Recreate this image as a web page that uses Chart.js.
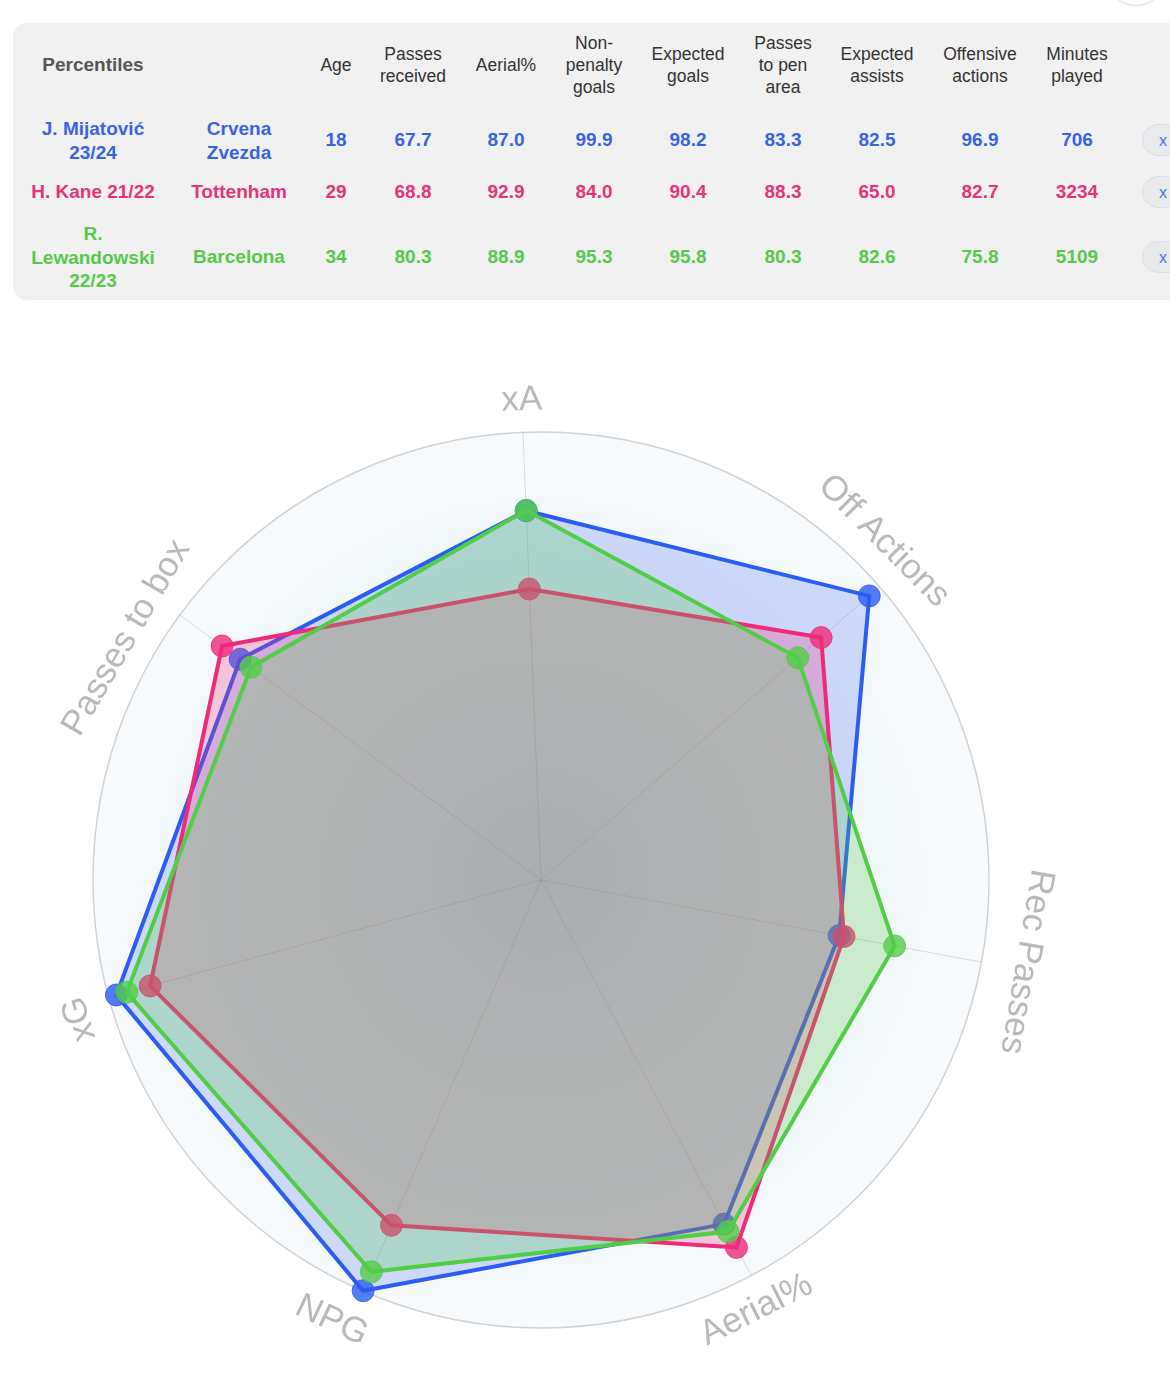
<!DOCTYPE html>
<html>
<head>
<meta charset="utf-8">
<script src="https://cdn.jsdelivr.net/npm/chart.js@4"></script>
<style>
  html, body { margin: 0; padding: 0; background: #fff; }
  body { width: 1170px; height: 1377px; position: relative; overflow: hidden;
         font-family: "Liberation Sans", Arial, Helvetica, sans-serif; }
  #panel { position: absolute; left: 13px; top: 23px; width: 1200px; height: 277px;
           background: #f1f1f1; border-radius: 14px; }
  .cell { position: absolute; width: 150px; text-align: center; transform: translateY(-50%);
          line-height: 23.5px; white-space: nowrap; }
  .head { font-size: 17.5px; color: #333; line-height: 22px; }
  .val { font-size: 19px; font-weight: bold; }
  .xbtn { position: absolute; left: 1142px; width: 64px; height: 32px; border-radius: 16px;
          background: #e8eaed; border: 1px solid #dcdfe3; transform: translateY(-50%);
          color: #3b78e6; font-size: 16px; line-height: 32px; box-sizing: border-box; padding-left: 16px; }
  #topbtn { position: absolute; left: 1106px; top: -52px; width: 58px; height: 56px;
            border-radius: 50%; border: 1px solid #e2e2e2; }
  #radar { position: absolute; left: 1px; top: 380px; }
</style>
</head>
<body>
<div id="topbtn"></div>
<div id="panel"></div>
<div id="table"></div>
<canvas id="radar" width="1080" height="1000"></canvas>
<script>
// players and table values (percentiles)
var players = ["J. Mijatović<br>23/24", "H. Kane 21/22", "R.<br>Lewandowski<br>22/23"];
var teams = ["Crvena<br>Zvezda", "Tottenham", "Barcelona"];
var ages = ["18", "29", "34"];
var passesReceived = [67.7, 68.8, 80.3];
var aerialPct = [87.0, 92.9, 88.9];
var npGoals = [99.9, 84.0, 95.3];
var xGoals = [98.2, 90.4, 95.8];
var passesPenArea = [83.3, 88.3, 80.3];
var xAssists = [82.5, 65.0, 82.6];
var offActions = [96.9, 82.7, 75.8];
var minutes = ["706", "3234", "5109"];

var headers = ["Percentiles", "", "Age", "Passes<br>received", "Aerial%", "Non-<br>penalty<br>goals",
    "Expected<br>goals", "Passes<br>to pen<br>area", "Expected<br>assists", "Offensive<br>actions", "Minutes<br>played"];
var radarLabels = ["xA", "Off Actions", "Rec Passes", "Aerial%", "NPG", "xG", "Passes to box"];

var textColors = ["#3a63e2", "#e8327a", "#56c94b"];
var lineColors = ["45, 92, 242", "240, 42, 122", "82, 205, 72"];
var fillAlpha = [0.2, 0.25, 0.25];

// table
var colX = [93, 239, 336, 413, 506, 594, 688, 783, 877, 980, 1077];
var rowY = [140, 192, 257];
var table = document.getElementById("table");
var html = "";
headers.forEach(function (h, c) {
    var st = c === 0 ? "font-weight:bold;color:#555;font-size:19px;top:65px;" : "top:65px;";
    html += '<div class="cell head" style="left:' + (colX[c] - 75) + 'px;' + st + '">' + h + "</div>";
});
for (var i = 0; i < 3; i++) {
    var row = [players[i], teams[i], ages[i], passesReceived[i].toFixed(1), aerialPct[i].toFixed(1),
        npGoals[i].toFixed(1), xGoals[i].toFixed(1), passesPenArea[i].toFixed(1), xAssists[i].toFixed(1),
        offActions[i].toFixed(1), minutes[i]];
    row.forEach(function (v, c) {
        html += '<div class="cell val" style="left:' + (colX[c] - 75) + 'px;top:' + rowY[i] +
            'px;color:' + textColors[i] + '">' + v + "</div>";
    });
    html += '<div class="xbtn" style="top:' + rowY[i] + 'px">x</div>';
}
table.innerHTML = html;

function radarData(i) {
    return [xAssists[i], offActions[i], passesReceived[i], aerialPct[i], npGoals[i], xGoals[i], passesPenArea[i]];
}

var bgPlugin = {
    id: "bgCircle",
    beforeDraw: function (chart) {
        var s = chart.scales.r;
        var ctx = chart.ctx;
        var g = ctx.createRadialGradient(s.xCenter, s.yCenter, 0, s.xCenter, s.yCenter, s.drawingArea);
        g.addColorStop(0, "#dde7ef");
        g.addColorStop(0.4, "#ebf2f6");
        g.addColorStop(1, "#f6fafc");
        ctx.save();
        ctx.beginPath();
        ctx.arc(s.xCenter, s.yCenter, s.drawingArea, 0, Math.PI * 2);
        ctx.fillStyle = g;
        ctx.fill();
        ctx.restore();
    }
};

// labels run along the circle; small per-label nudges (deg, px) to sit like the original
var labelShift = [0, -3.8, -1, 1.4, 2, -1.6, -6];
var labelGap = [32, 34, 44, 33, 40, 34, 32];

var labelPlugin = {
    id: "curvedLabels",
    afterDraw: function (chart) {
        var s = chart.scales.r;
        var ctx = chart.ctx;
        ctx.save();
        ctx.font = "35px 'Liberation Sans', Arial, sans-serif";
        ctx.fillStyle = "#b9b9b9";
        ctx.textAlign = "center";
        ctx.textBaseline = "middle";
        radarLabels.forEach(function (lab, i) {
            var a = s.getIndexAngle(i) + labelShift[i] * Math.PI / 180;
            var r = s.drawingArea + labelGap[i];
            var x = s.xCenter + Math.sin(a) * r;
            var y = s.yCenter - Math.cos(a) * r;
            var rot = a;
            if (Math.cos(rot) < -0.5) rot -= Math.PI;
            ctx.save();
            ctx.translate(x, y);
            ctx.rotate(rot);
            ctx.fillText(lab, 0, 0);
            ctx.restore();
        });
        ctx.restore();
    }
};

var datasets = [0, 1, 2].map(function (i) {
    return {
        label: players[i].replace(/<br>/g, " "),
        data: radarData(i),
        order: 2 - i,
        borderColor: "rgba(" + lineColors[i] + ", 1)",
        backgroundColor: "rgba(" + lineColors[i] + ", " + fillAlpha[i] + ")",
        borderWidth: 4,
        fill: true,
        pointRadius: 11,
        pointBackgroundColor: "rgba(" + lineColors[i] + ", 0.8)",
        pointBorderColor: "rgba(" + lineColors[i] + ", 0.8)",
        pointBorderWidth: 1,
    };
});

var radarChart = new Chart(document.getElementById("radar").getContext("2d"), {
    type: "radar",
    data: {
        labels: radarLabels,
        datasets: datasets,
    },
    options: {
        responsive: false,
        animation: false,
        layout: { padding: { left: 92, right: 92, top: 52, bottom: 52 } },
        scales: {
            r: {
                min: 0,
                max: 100,
                startAngle: -2.3,
                ticks: { display: false, stepSize: 100 },
                grid: { circular: true, color: "#d2d2d2", lineWidth: 1.5 },
                angleLines: { color: "rgba(0, 0, 0, 0.12)", lineWidth: 1 },
                pointLabels: { display: false },
            },
        },
        plugins: {
            legend: { display: false },
            tooltip: { enabled: false },
        },
    },
    plugins: [bgPlugin, labelPlugin],
});
</script>
</body>
</html>
